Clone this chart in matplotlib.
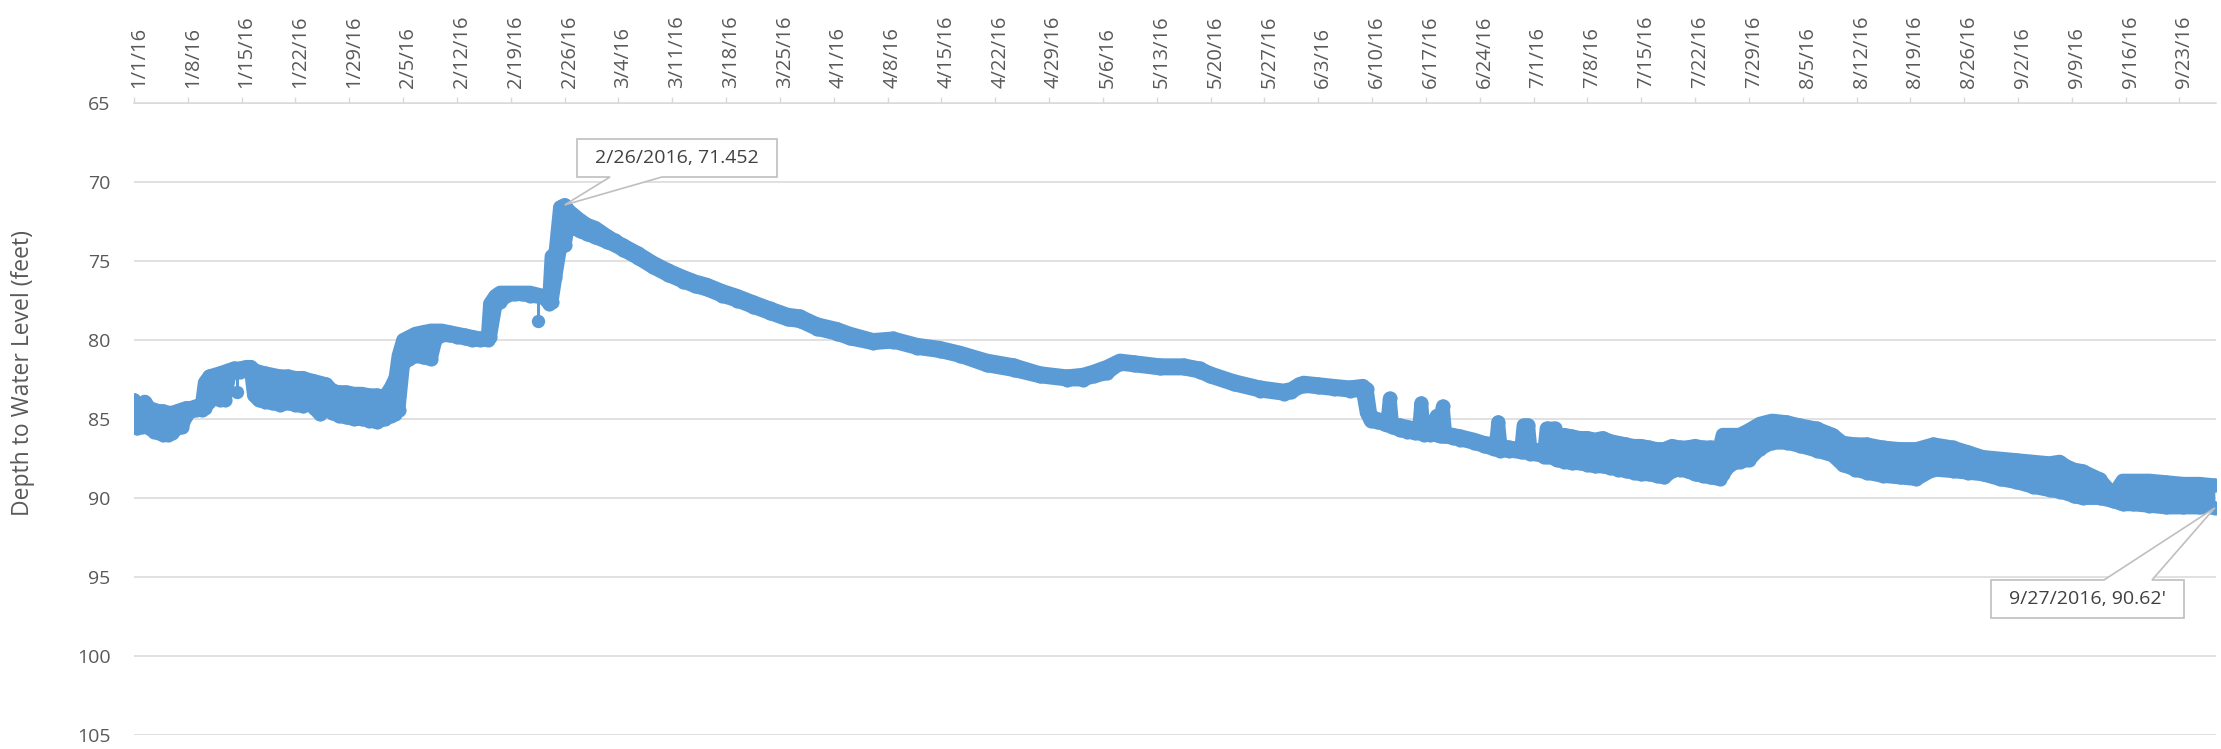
import matplotlib
matplotlib.use('Agg')
import numpy as np
import pandas as pd
import matplotlib.pyplot as plt
import matplotlib.dates as mdates
from matplotlib.patches import Polygon
from matplotlib.transforms import ScaledTranslation

plt.rcParams['font.family'] = ['Open Sans', 'DejaVu Sans']

# Readings, as days after 1/1/2016 00:00, with the shallowest and deepest
# depth to water (feet) the logger gave around that time
days = [0.0, 0.4, 1.0, 1.4, 2.0, 2.6, 3.2, 3.8, 4.4, 5.0,
        5.6, 6.2, 6.8, 7.4, 8.0, 8.8, 9.2, 9.8, 10.5, 11.2,
        11.8, 12.4, 13.0, 13.8, 14.6, 15.2, 15.6, 16.2, 17.0, 18.0,
        19.0, 20.0, 21.0, 22.0, 22.6, 23.4, 24.2, 25.0, 25.8, 26.6,
        27.6, 28.6, 29.6, 30.6, 31.6, 32.6, 33.4, 34.0, 34.4, 35.0,
        35.8, 36.6, 37.6, 38.6, 39.2, 40.0, 41.0, 42.0, 43.0, 44.0,
        45.0, 46.0, 46.3, 47.0, 47.6, 48.4, 49.5, 50.5, 51.5, 53.2,
        54.0, 54.3, 54.8, 55.4, 56.0, 56.5, 57.0, 58.0, 58.9, 60.0,
        61.5, 62.5, 63.6, 65.5, 67.5, 69.5, 71.4, 73.0, 74.5, 76.5,
        78.4, 80.5, 82.7, 85.0, 86.6, 88.8, 91.4, 93.1, 96.1, 98.7,
        101.8, 104.8, 107.4, 110.9, 114.4, 117.8, 121.3, 123.4, 124.8, 126.5,
        128.2, 130.0, 133.4, 136.5, 138.6, 139.9, 143.0, 146.4, 149.5, 150.5,
        151.5, 152.1, 154.0, 156.0, 158.1, 159.8, 160.3, 160.8, 161.6, 162.6,
        163.0, 163.3, 163.6, 164.6, 165.6, 166.6, 167.1, 167.4, 167.7, 168.6,
        169.4, 169.9, 170.2, 170.5, 171.5, 172.5, 174.2, 175.5, 176.8, 177.1,
        177.4, 177.7, 178.8, 180.4, 180.7, 181.3, 181.6, 183.0, 183.4, 183.7,
        184.8, 185.1, 186.0, 187.0, 188.0, 189.0, 190.0, 191.0, 192.0, 193.0,
        194.0, 195.0, 196.0, 197.0, 198.0, 199.0, 200.0, 201.0, 202.0, 203.0,
        204.0, 205.0, 206.2, 206.6, 207.6, 208.8, 210.0, 211.4, 213.0, 214.9,
        216.6, 218.8, 220.9, 222.2, 223.8, 225.3, 227.4, 229.6, 231.8, 234.0,
        236.5, 238.5, 240.4, 242.6, 244.8, 247.0, 249.1, 250.4, 251.3, 252.3,
        253.4, 255.6, 257.4, 258.6, 260.0, 262.1, 264.3, 266.5, 268.6, 270.6]

depth_top = [83.8, 84.5, 84.5, 83.9, 84.3, 84.4, 84.5, 84.5, 84.6, 84.6,
             84.5, 84.4, 84.3, 84.3, 84.2, 84.2, 82.7, 82.3, 82.2, 82.1,
             82.0, 81.9, 81.8, 81.8, 81.7, 81.7, 81.9, 82.0, 82.1, 82.2,
             82.3, 82.3, 82.4, 82.4, 82.5, 82.6, 82.7, 82.8, 83.2, 83.3,
             83.3, 83.4, 83.4, 83.5, 83.5, 83.6, 83.0, 82.4, 81.0, 80.0,
             79.8, 79.6, 79.5, 79.4, 79.4, 79.4, 79.5, 79.6, 79.7, 79.8,
             79.9, 79.8, 77.7, 77.2, 77.0, 77.0, 77.0, 77.0, 77.0, 77.2,
             77.3, 74.7, 74.5, 71.6, 71.45, 71.8, 72.0, 72.4, 72.7, 72.9,
             73.4, 73.7, 74.0, 74.5, 75.1, 75.6, 76.0, 76.3, 76.5, 76.9,
             77.2, 77.6, 78.0, 78.4, 78.5, 79.0, 79.3, 79.6, 80.0, 79.9,
             80.3, 80.5, 80.8, 81.3, 81.6, 82.1, 82.3, 82.2, 82.0, 81.7,
             81.3, 81.4, 81.6, 81.6, 81.8, 82.1, 82.6, 83.0, 83.2, 83.1,
             82.8, 82.7, 82.8, 82.9, 83.0, 82.9, 83.1, 84.8, 85.0, 85.1,
             85.2, 83.7, 85.3, 85.4, 85.5, 85.6, 85.7, 84.0, 85.7, 85.8,
             84.8, 85.0, 84.2, 85.9, 86.0, 86.1, 86.3, 86.5, 86.6, 86.7,
             85.2, 86.7, 86.8, 86.9, 85.4, 85.4, 86.9, 87.0, 87.0, 85.6,
             85.6, 86.5, 86.0, 86.1, 86.2, 86.2, 86.3, 86.2, 86.4, 86.5,
             86.6, 86.7, 86.7, 86.8, 86.9, 86.9, 86.7, 86.8, 86.8, 86.7,
             86.8, 86.8, 86.8, 86.0, 86.0, 86.0, 85.7, 85.3, 85.1, 85.2,
             85.4, 85.6, 86.0, 86.5, 86.6, 86.6, 86.8, 86.9, 86.9, 86.6,
             86.8, 87.1, 87.4, 87.5, 87.6, 87.7, 87.8, 87.7, 88.0, 88.2,
             88.3, 88.8, 89.8, 88.9, 88.9, 88.9, 89.0, 89.1, 89.1, 89.2]

depth_bottom = [85.3, 85.6, 85.5, 85.3, 85.6, 85.8, 85.9, 86.0, 86.0, 85.9,
                85.6, 85.5, 84.8, 84.5, 84.4, 84.4, 84.3, 83.9, 83.6, 83.8,
                83.8, 82.2, 82.0, 82.0, 81.9, 81.9, 83.5, 83.8, 83.9, 84.0,
                84.1, 84.0, 84.1, 84.2, 83.8, 84.3, 84.7, 84.4, 84.6, 84.8,
                84.9, 85.0, 85.0, 85.1, 85.2, 85.0, 84.8, 84.7, 84.4, 81.5,
                81.2, 81.0, 81.1, 81.2, 80.0, 79.7, 79.7, 79.8, 79.9, 80.0,
                80.0, 80.0, 79.8, 77.8, 77.6, 77.2, 77.1, 77.1, 77.2, 77.3,
                77.7, 77.6, 76.0, 74.2, 74.0, 72.6, 72.9, 73.1, 73.3, 73.5,
                73.8, 74.0, 74.3, 74.8, 75.4, 75.9, 76.3, 76.6, 76.8, 77.2,
                77.5, 77.9, 78.3, 78.7, 78.8, 79.3, 79.6, 79.9, 80.2, 80.1,
                80.5, 80.7, 81.0, 81.6, 81.9, 82.3, 82.5, 82.5, 82.3, 82.1,
                81.5, 81.6, 81.8, 81.8, 82.0, 82.3, 82.8, 83.2, 83.4, 83.3,
                83.0, 82.9, 83.0, 83.1, 83.2, 83.2, 84.6, 85.1, 85.2, 85.3,
                85.4, 85.4, 85.5, 85.7, 85.8, 85.9, 85.9, 85.9, 86.0, 86.0,
                86.0, 86.1, 86.1, 86.1, 86.2, 86.3, 86.5, 86.7, 86.9, 86.9,
                86.9, 87.0, 87.0, 87.1, 87.1, 87.1, 87.2, 87.3, 87.4, 87.4,
                87.5, 87.6, 87.7, 87.8, 87.8, 87.9, 88.0, 88.0, 88.1, 88.2,
                88.3, 88.4, 88.5, 88.5, 88.6, 88.7, 88.3, 88.2, 88.3, 88.5,
                88.6, 88.7, 88.8, 88.5, 87.9, 87.7, 87.6, 86.9, 86.5, 86.5,
                86.7, 87.0, 87.3, 87.9, 88.2, 88.4, 88.6, 88.7, 88.8, 88.2,
                88.3, 88.4, 88.5, 88.8, 89.0, 89.3, 89.5, 89.6, 89.7, 89.9,
                90.0, 90.0, 90.2, 90.4, 90.4, 90.5, 90.6, 90.6, 90.6, 90.62]

# single readings that drop out of the band, and the band depth next to them
stray_days = [13.4, 52.5]
stray_depths = [83.3, 78.8]
stray_band = [81.9, 77.2]

peak_day, peak_depth = 56.0, 71.452
peak_label = '2/26/2016, 71.452'
last_day, last_depth = 270.6, 90.62
last_label = "9/27/2016, 90.62'"

blue = '#5B9BD5'
grey_txt = '#595959'
grid_c = '#D9D9D9'

start = pd.Timestamp('2016-01-01')
def to_num(d):
    return mdates.date2num((start + pd.to_timedelta(np.asarray(d, dtype=float), unit='D')).to_pydatetime())

t = to_num(days)
top = np.array(depth_top)
bot = np.array(depth_bottom)

W, H = 2221, 749
fig = plt.figure(figsize=(W / 100, H / 100), dpi=100)
ax = fig.add_axes([134 / W, 1 - 735 / H, 2082 / W, 632 / H])

# the band of readings
ax.fill_between(t, top, bot, color=blue, lw=0, zorder=2)
for edge in (top, bot):
    ax.plot(t, edge, color=blue, lw=10, solid_capstyle='round',
            solid_joinstyle='round', zorder=2)
    ax.plot(t, edge, 'o', color=blue, ms=10.2, mew=0, zorder=2)

# stray readings with their thin connecting line
ts = to_num(stray_days)
for x, d, b in zip(ts, stray_depths, stray_band):
    ax.plot([x, x], [b, d], color=blue, lw=2.2, zorder=2)
    ax.plot([x], [d], 'o', color=blue, ms=9.6, mew=0, zorder=2)

ax.set_ylim(105, 65)
ax.set_xlim(to_num([0])[0], to_num([270.75])[0])
ax.set_yticks(np.arange(65, 106, 5))
ax.yaxis.grid(True, color=grid_c, lw=1.1)
ax.set_axisbelow(True)

tick_dates = pd.date_range('2016-01-01', '2016-09-23', freq='7D')
ax.set_xticks(mdates.date2num(tick_dates.to_pydatetime()))
ax.set_xticklabels([f'{d.month}/{d.day}/16' for d in tick_dates], rotation=90)
ax.xaxis.tick_top()
ax.tick_params(axis='x', which='both', direction='out', length=4.5, width=1,
               color=grid_c, labelcolor=grey_txt, labelsize=14.5, pad=6)
ax.tick_params(axis='y', length=0, labelcolor=grey_txt, labelsize=14, pad=17)

offset = ScaledTranslation(5 / 100, 0, fig.dpi_scale_trans)
for lab in ax.get_xticklabels():
    lab.set_transform(lab.get_transform() + offset)

for s in ['left', 'right', 'bottom']:
    ax.spines[s].set_visible(False)
ax.spines['top'].set_color(grid_c)
ax.spines['top'].set_linewidth(1.1)

ax.set_ylabel('Depth to Water Level (feet)', fontsize=16.5, color=grey_txt)
ax.yaxis.set_label_coords(-0.0475, 0.572)

# callouts
inv = fig.transFigure.inverted()
def px(x, y):
    return (x / W, 1 - y / H)

def callout(label, day, depth, box, base, base_on_top):
    x0, y0, x1, y1 = box
    tip = inv.transform(ax.transData.transform((to_num([day])[0], depth)))
    b1, b2 = base
    if base_on_top:
        pts = [px(x0, y0), px(b1, y0), tip, px(b2, y0), px(x1, y0),
               px(x1, y1), px(x0, y1)]
    else:
        pts = [px(x0, y0), px(x1, y0), px(x1, y1), px(b2, y1), tip,
               px(b1, y1), px(x0, y1)]
    fig.patches.append(Polygon(pts, closed=True, transform=fig.transFigure,
                               facecolor='white', edgecolor='#BFBFBF', lw=1.2,
                               zorder=5))
    fig.text((x0 + x1) / 2 / W, 1 - (y0 + y1) / 2 / H, label, ha='center',
             va='center', fontsize=14, color='#404040', zorder=6)

callout(peak_label, peak_day, peak_depth, (577, 139, 777, 177), (610, 662), False)
callout(last_label, last_day, last_depth, (1991, 580, 2184, 618), (2104, 2152), True)

fig.savefig('out.png', dpi=100)
